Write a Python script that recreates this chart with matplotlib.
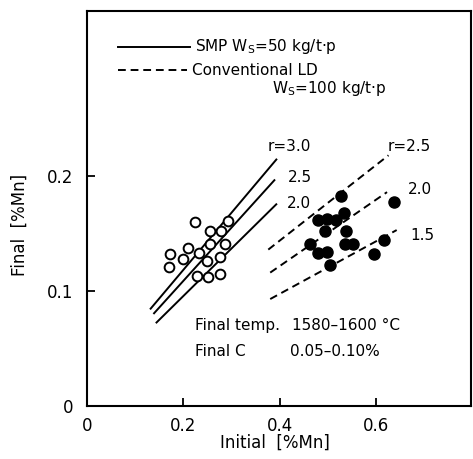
import matplotlib
matplotlib.use("Agg")
import matplotlib.pyplot as plt

# ---- data ----
smp_x = [0.224, 0.293, 0.255, 0.278, 0.255, 0.286, 0.210, 0.172, 0.233, 0.200,
         0.171, 0.250, 0.275, 0.228, 0.252, 0.276]
smp_y = [0.160, 0.161, 0.152, 0.152, 0.141, 0.141, 0.137, 0.132, 0.133, 0.128,
         0.121, 0.126, 0.130, 0.113, 0.112, 0.115]

ld_x = [0.526, 0.637, 0.480, 0.498, 0.516, 0.532, 0.494, 0.537, 0.463, 0.534,
        0.551, 0.615, 0.480, 0.498, 0.504, 0.596]
ld_y = [0.183, 0.177, 0.162, 0.163, 0.162, 0.168, 0.152, 0.152, 0.141, 0.141,
        0.141, 0.144, 0.133, 0.134, 0.123, 0.132]

# solid lines (SMP) r = 3.0, 2.5, 2.0 : [x0, x1], [y0, y1]
smp_r_labels = ["r=3.0", "2.5", "2.0"]
smp_line_x = [[0.131, 0.394], [0.138, 0.390], [0.143, 0.394]]
smp_line_y = [[0.084, 0.215], [0.080, 0.197], [0.072, 0.176]]

# dashed lines (conventional LD) r = 2.5, 2.0, 1.5
ld_r_labels = ["r=2.5", "2.0", "1.5"]
ld_line_x = [[0.376, 0.625], [0.380, 0.622], [0.380, 0.642]]
ld_line_y = [[0.136, 0.218], [0.116, 0.186], [0.093, 0.153]]

xticks = [0, 0.2, 0.4, 0.6]
xticklabels = ["0", "0.2", "0.4", "0.6"]
yticks = [0, 0.1, 0.2]
yticklabels = ["0", "0.1", "0.2"]

# ---- figure ----
plt.rcParams['font.family'] = ['DejaVu Sans']
fig = plt.figure(figsize=(4.73, 4.59), dpi=100)
ax = fig.add_axes([0.1835, 0.1155, 0.8123, 0.8605])
ax.set_xlim(0, 0.796)
ax.set_ylim(0, 0.3435)

for xs, ys in zip(smp_line_x, smp_line_y):
    ax.plot(xs, ys, color='black', lw=1.4, solid_capstyle='butt')
for xs, ys in zip(ld_line_x, ld_line_y):
    ax.plot(xs, ys, color='black', lw=1.4, linestyle=(0, (4, 2.5)))

ax.plot(smp_x, smp_y, 'o', ms=7, mfc='white', mec='black', mew=1.4, zorder=3)
ax.plot(ld_x, ld_y, 'o', ms=8, mfc='black', mec='black', zorder=3)

# line labels
smp_label_pos = [(0.3755, 0.2261), (0.417, 0.1991), (0.415, 0.1757)]
ld_label_pos = [(0.624, 0.2261), (0.666, 0.1887), (0.670, 0.1487)]
for lab, (x, y) in zip(smp_r_labels, smp_label_pos):
    ax.text(x, y, lab, ha='left', va='center', fontsize=11)
for lab, (x, y) in zip(ld_r_labels, ld_label_pos):
    ax.text(x, y, lab, ha='left', va='center', fontsize=11)

# legend (manual)
ax.plot([0.081, 0.2686], [0.9096, 0.9096], color='black', lw=1.4, transform=ax.transAxes)
ax.text(0.2816, 0.9096, "SMP W$_\\mathregular{S}$=50 kg/t·p", transform=ax.transAxes,
        ha='left', va='center', fontsize=11)
ax.plot([0.081, 0.261], [0.8506, 0.8506], color='black', lw=1.4,
        linestyle=(0, (4, 2.5)), transform=ax.transAxes)
ax.text(0.274, 0.8506, "Conventional LD", transform=ax.transAxes,
        ha='left', va='center', fontsize=11)
ax.text(0.482, 0.805, "W$_\\mathregular{S}$=100 kg/t·p", transform=ax.transAxes,
        ha='left', va='center', fontsize=11)

# conditions
ax.text(0.2816, 0.205, "Final temp.", transform=ax.transAxes, ha='left', va='center', fontsize=11)
ax.text(0.534, 0.205, "1580\u20131600 \u00b0C", transform=ax.transAxes, ha='left', va='center', fontsize=11)
ax.text(0.2816, 0.1367, "Final C", transform=ax.transAxes, ha='left', va='center', fontsize=11)
ax.text(0.529, 0.1367, "0.05\u20130.10%", transform=ax.transAxes, ha='left', va='center', fontsize=11)

ax.set_xticks(xticks)
ax.set_xticklabels(xticklabels)
ax.set_yticks(yticks)
ax.set_yticklabels(yticklabels)
ax.tick_params(direction='in', length=6, width=1.3, labelsize=12)
ax.tick_params(axis='x', pad=8)
ax.tick_params(axis='y', pad=10)
for s in ax.spines.values():
    s.set_linewidth(1.5)

fig.text(0.581, 0.0349, "Initial  [%Mn]", ha='center', va='center', fontsize=12)
fig.text(0.0423, 0.5098, "Final  [%Mn]", ha='center', va='center', fontsize=12, rotation=90)

fig.savefig("out.png", dpi=100)
